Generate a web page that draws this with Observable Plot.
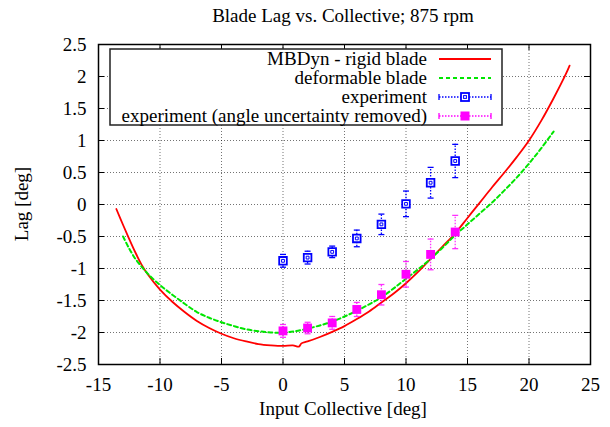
<!DOCTYPE html>
<html><head><meta charset="utf-8">
<script src="https://cdn.jsdelivr.net/npm/d3@7"></script>
<script src="https://cdn.jsdelivr.net/npm/@observablehq/plot@0.6"></script>
<style>
html,body{margin:0;padding:0;background:#fff;width:610px;height:427px;overflow:hidden;}
#title{position:relative;height:30px;font-family:"Liberation Serif",serif;font-size:19px;color:#000;}
#title span{position:absolute;left:343px;top:6px;transform:translateX(-50%);white-space:nowrap;line-height:20px;}
#chart svg{display:block;}
#chart svg text{font-family:"Liberation Serif",serif;}
</style></head>
<body>
<div id="title"><span>Blade Lag vs. Collective; 875 rpm</span></div>
<div id="chart"></div>
<script>
const xTicks = [-15,-10,-5,0,5,10,15,20,25];
const yTicks = [-2.5,-2,-1.5,-1,-0.5,0,0.5,1,1.5,2,2.5];
const xTickLabels = ["-15","-10","-5","0","5","10","15","20","25"];
const yTickLabels = ["-2.5","-2","-1.5","-1","-0.5","0","0.5","1","1.5","2","2.5"];
const seriesNames = ["MBDyn - rigid blade","deformable blade","experiment","experiment (angle uncertainty removed)"];
const xLabel = "Input Collective [deg]";
const yLabel = "Lag [deg]";

const rigidX = [-13.55,-13,-12.5,-12,-11.5,-11,-10,-9,-8,-7,-6,-5,-4,-3,-2,-1,0,0.8,1.3,1.5,2,3,4,5,6,7,8,9,10,11,12,13,14,15,16,17,18,19,20,21,22,23,23.3];
const rigidY = [-0.07,-0.32,-0.54,-0.75,-0.94,-1.09,-1.33,-1.52,-1.68,-1.82,-1.93,-2.02,-2.09,-2.14,-2.18,-2.20,-2.21,-2.20,-2.22,-2.17,-2.14,-2.07,-1.99,-1.90,-1.79,-1.67,-1.53,-1.39,-1.23,-1.05,-0.85,-0.65,-0.45,-0.21,0.03,0.27,0.50,0.74,1.00,1.31,1.66,2.04,2.17];
const deformX = [-13,-12.5,-12,-11.5,-11,-10,-9,-8,-7,-6,-5,-4,-3,-2,-1,0,1,2,3,4,5,6,7,8,9,10,11,12,13,14,15,16,17,18,19,20,21,22];
const deformY = [-0.50,-0.69,-0.85,-0.97,-1.08,-1.26,-1.41,-1.55,-1.68,-1.77,-1.84,-1.90,-1.95,-1.98,-2.00,-2.00,-1.98,-1.94,-1.89,-1.83,-1.75,-1.66,-1.56,-1.45,-1.31,-1.16,-1.01,-0.85,-0.67,-0.48,-0.31,-0.14,0.03,0.22,0.42,0.64,0.88,1.14];
const expX = [0,2,4,6,8,10,12,14];
const expY = [-0.88,-0.83,-0.74,-0.53,-0.31,0.01,0.34,0.68];
const expErr = [0.1,0.1,0.09,0.13,0.16,0.2,0.24,0.26];
const exp2Y = [-1.975,-1.93,-1.85,-1.64,-1.41,-1.09,-0.78,-0.43];
const exp2Err = [0.1,0.09,0.1,0.11,0.16,0.2,0.24,0.26];

const colors = ["#ff0000","#00e600","#0000ff","#ff00ff"];

const rigid = rigidX.map((x,i)=>({x, y: rigidY[i]}));
const deform = deformX.map((x,i)=>({x, y: deformY[i]}));
const exp1 = expX.map((x,i)=>({x, y: expY[i], e: expErr[i]}));
const exp2 = expX.map((x,i)=>({x, y: exp2Y[i], e: exp2Err[i]}));

const W = 610, H = 397, mL = 98, mR = 20, mT = 14, mB = 63;
const iW = W - mL - mR, iH = H - mT - mB;
const tickLen = 6;
const capSymbol = {draw(ctx, size){ const w = Math.sqrt(size/Math.PI); ctx.moveTo(-w,0); ctx.lineTo(w,0); }};
const font = "Liberation Serif";
const fs = 19;

const chart = Plot.plot({
  width: W, height: H,
  marginLeft: mL, marginRight: mR, marginTop: mT, marginBottom: mB,
  style: {fontFamily: font, fontSize: fs + "px", background: "#fff", color: "#000"},
  x: {domain: [-15, 25]},
  y: {domain: [-2.5, 2.5]},
  marks: [
    Plot.gridX(xTicks, {stroke: "#000", strokeOpacity: 0.55, strokeDasharray: "1,2"}),
    Plot.gridY(yTicks, {stroke: "#000", strokeOpacity: 0.55, strokeDasharray: "1,2"}),
    Plot.tickX(xTicks, {x: d=>d, insetTop: iH - tickLen, stroke: "#000"}),
    Plot.tickX(xTicks, {x: d=>d, insetBottom: iH - tickLen, stroke: "#000"}),
    Plot.tickY(yTicks, {y: d=>d, insetRight: iW - tickLen, stroke: "#000"}),
    Plot.tickY(yTicks, {y: d=>d, insetLeft: iW - tickLen, stroke: "#000"}),
    Plot.axisX(xTicks, {tickSize: 0, tickPadding: 13, tickFormat: (d,i)=>xTickLabels[i], label: null, fontSize: fs, fontFamily: font, fontVariant: "normal"}),
    Plot.axisY(yTicks, {tickSize: 0, tickPadding: 12, tickFormat: (d,i)=>yTickLabels[i], label: null, fontSize: fs, fontFamily: font, fontVariant: "normal"}),
    Plot.line(rigid, {x: "x", y: "y", stroke: colors[0], strokeWidth: 1.8, curve: "catmull-rom"}),
    Plot.line(deform, {x: "x", y: "y", stroke: colors[1], strokeWidth: 2, strokeDasharray: "4,3", curve: "catmull-rom"}),
    // experiment error bars
    Plot.ruleX(exp1, {x: "x", y1: d=>d.y-d.e, y2: d=>d.y+d.e, stroke: colors[2], strokeWidth: 1.3, strokeDasharray: "1.5,1.5"}),
    Plot.dot(exp1, {x: "x", y: d=>d.y-d.e, symbol: capSymbol, r: 3, stroke: colors[2], strokeWidth: 1.3}),
    Plot.dot(exp1, {x: "x", y: d=>d.y+d.e, symbol: capSymbol, r: 3, stroke: colors[2], strokeWidth: 1.3}),
    Plot.dot(exp1, {x: "x", y: "y", symbol: "square", r: 4.3, fill: "#fff", stroke: colors[2], strokeWidth: 1.8}),
    Plot.dot(exp1, {x: "x", y: "y", symbol: "square", r: 1.6, fill: "none", stroke: colors[2], strokeWidth: 1}),
    // corrected experiment
    Plot.ruleX(exp2, {x: "x", y1: d=>d.y-d.e, y2: d=>d.y+d.e, stroke: colors[3], strokeWidth: 1.3, strokeDasharray: "1.5,1.5", strokeOpacity: 0.8}),
    Plot.dot(exp2, {x: "x", y: d=>d.y-d.e, symbol: capSymbol, r: 3, stroke: colors[3], strokeWidth: 1.3, strokeOpacity: 0.8}),
    Plot.dot(exp2, {x: "x", y: d=>d.y+d.e, symbol: capSymbol, r: 3, stroke: colors[3], strokeWidth: 1.3, strokeOpacity: 0.8}),
    Plot.dot(exp2, {x: "x", y: "y", symbol: "square", r: 5, fill: colors[3], stroke: "none"}),
    Plot.frame({stroke: "#000", strokeWidth: 1.5})
  ]
});
document.getElementById("chart").appendChild(chart);

const svg = d3.select(chart);
// axis labels
svg.append("text").attr("x", mL + iW/2 - 1).attr("y", H - 12).attr("text-anchor", "middle")
  .attr("font-family", font).attr("font-size", fs).attr("fill", "#000").text(xLabel);
svg.append("text").attr("transform", `translate(28,${mT + iH/2}) rotate(-90)`).attr("text-anchor", "middle")
  .attr("font-family", font).attr("font-size", fs).attr("fill", "#000").text(yLabel);

// legend
const lg = svg.append("g");
const lx0 = 110, ly0 = 19, lx1 = 502, ly1 = 95;
lg.append("rect").attr("x", lx0).attr("y", ly0).attr("width", lx1-lx0).attr("height", ly1-ly0)
  .attr("fill", "#fff").attr("stroke", "#222").attr("stroke-width", 1.5);
const rowY = [29, 48, 67, 86];
const sx0 = 439, sx1 = 491, sxm = 465;
seriesNames.forEach((name, i) => {
  const y = rowY[i];
  lg.append("text").attr("x", 427).attr("y", y).attr("dy", "0.32em").attr("text-anchor", "end")
    .attr("font-family", font).attr("font-size", fs).attr("fill", "#000").text(name);
  const line = lg.append("line").attr("x1", sx0).attr("x2", sx1).attr("y1", y).attr("y2", y).attr("stroke", colors[i]);
  if (i === 0) line.attr("stroke-width", 1.8);
  if (i === 1) line.attr("stroke-width", 2).attr("stroke-dasharray", "4,3");
  if (i >= 2) {
    line.attr("stroke-width", 1.3).attr("stroke-dasharray", "1.5,1.5");
    [sx0, sx1].forEach(xx => lg.append("line").attr("x1", xx).attr("x2", xx).attr("y1", y-3).attr("y2", y+3).attr("stroke", colors[i]).attr("stroke-width", 1.3));
  }
  if (i === 2) {
    lg.append("rect").attr("x", sxm-4).attr("y", y-4).attr("width", 8).attr("height", 8).attr("fill", "#fff").attr("stroke", colors[2]).attr("stroke-width", 1.8);
    lg.append("rect").attr("x", sxm-1.4).attr("y", y-1.4).attr("width", 2.8).attr("height", 2.8).attr("fill", "none").attr("stroke", colors[2]).attr("stroke-width", 1);
  }
  if (i === 3) {
    lg.append("rect").attr("x", sxm-4.5).attr("y", y-4.5).attr("width", 9).attr("height", 9).attr("fill", colors[3]);
  }
});
svg.selectAll("text").style("font-family", `"${font}", serif`);
svg.selectAll("g").filter(function(){ return this.getAttribute("font-family"); }).attr("font-family", font);
</script>
</body></html>
